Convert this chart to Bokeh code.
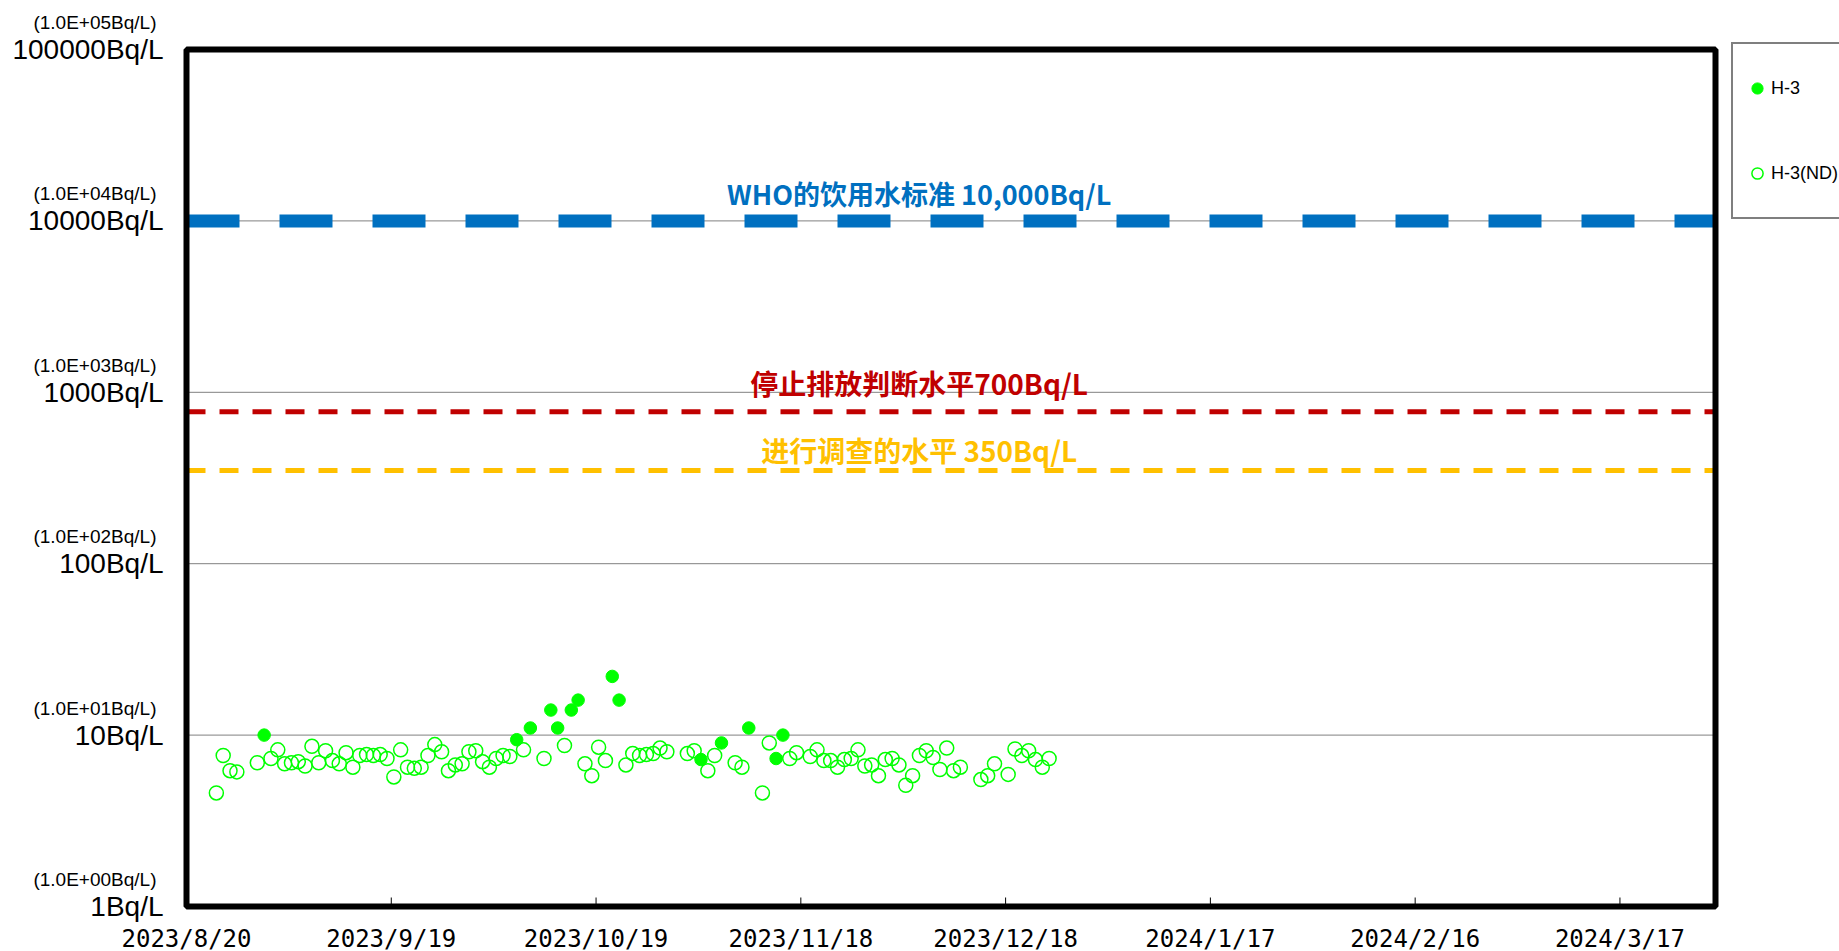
import math
import pandas as pd
from bokeh.plotting import figure
from bokeh.models import (Label, Legend, LegendItem, ColumnDataSource,
                          Range1d, BoxAnnotation)
from bokeh.core.properties import value
from bokeh.embed import file_html
from bokeh.resources import INLINE

# ---------------- data ----------------
x_start = "2023-08-20"
x_end = "2024-03-31"
x_tick_labels = ["2023/8/20", "2023/9/19", "2023/10/19", "2023/11/18",
                 "2023/12/18", "2024/1/17", "2024/2/16", "2024/3/17"]

y_tick_values = [1, 10, 100, 1000, 10000, 100000]
y_tick_labels = ["1Bq/L", "10Bq/L", "100Bq/L", "1000Bq/L", "10000Bq/L", "100000Bq/L"]
y_tick_sublabels = ["(1.0E+00Bq/L)", "(1.0E+01Bq/L)", "(1.0E+02Bq/L)",
                    "(1.0E+03Bq/L)", "(1.0E+04Bq/L)", "(1.0E+05Bq/L)"]
y_grid_values = [10, 100, 1000, 10000]

sample_hour = 9  # sampling time of day

h3_dates = ["2023-08-31", "2023-10-07", "2023-10-09", "2023-10-12", "2023-10-13",
            "2023-10-15", "2023-10-16", "2023-10-21", "2023-10-22", "2023-11-03",
            "2023-11-06", "2023-11-10", "2023-11-14", "2023-11-15"]
h3_values = [10.0, 9.4, 11, 14, 11, 14, 16, 22, 16, 7.2, 9.0, 11, 7.3, 10]

nd_dates = ["2023-08-24", "2023-08-25", "2023-08-26", "2023-08-27", "2023-08-30",
            "2023-09-01", "2023-09-02", "2023-09-03", "2023-09-04", "2023-09-05",
            "2023-09-06", "2023-09-07", "2023-09-08", "2023-09-09", "2023-09-10",
            "2023-09-11", "2023-09-12", "2023-09-13", "2023-09-14", "2023-09-15",
            "2023-09-16", "2023-09-17", "2023-09-18", "2023-09-19", "2023-09-20",
            "2023-09-21", "2023-09-22", "2023-09-23", "2023-09-24", "2023-09-25",
            "2023-09-26", "2023-09-27", "2023-09-28", "2023-09-29", "2023-09-30",
            "2023-10-01", "2023-10-02", "2023-10-03", "2023-10-04", "2023-10-05",
            "2023-10-06", "2023-10-08", "2023-10-11", "2023-10-14", "2023-10-17",
            "2023-10-18", "2023-10-19", "2023-10-20", "2023-10-23", "2023-10-24",
            "2023-10-25", "2023-10-26", "2023-10-27", "2023-10-28", "2023-10-29",
            "2023-11-01", "2023-11-02", "2023-11-04", "2023-11-05", "2023-11-08",
            "2023-11-09", "2023-11-12", "2023-11-13", "2023-11-16", "2023-11-17",
            "2023-11-19", "2023-11-20", "2023-11-21", "2023-11-22", "2023-11-23",
            "2023-11-24", "2023-11-25", "2023-11-26", "2023-11-27", "2023-11-28",
            "2023-11-29", "2023-11-30", "2023-12-01", "2023-12-02", "2023-12-03",
            "2023-12-04", "2023-12-05", "2023-12-06", "2023-12-07", "2023-12-08",
            "2023-12-09", "2023-12-10", "2023-12-11", "2023-12-14", "2023-12-15",
            "2023-12-16", "2023-12-18", "2023-12-19", "2023-12-20", "2023-12-21",
            "2023-12-22", "2023-12-23", "2023-12-24"]
nd_values = [4.6, 7.6, 6.2, 6.1, 6.9,
             7.3, 8.2, 6.8, 6.9, 7.0,
             6.6, 8.6, 6.9, 8.1, 7.1,
             6.8, 7.9, 6.5, 7.6, 7.7,
             7.6, 7.7, 7.3, 5.7, 8.2,
             6.5, 6.4, 6.5, 7.6, 8.8,
             8.0, 6.2, 6.7, 6.8, 8.0,
             8.1, 7.0, 6.5, 7.3, 7.6,
             7.5, 8.2, 7.3, 8.7, 6.8,
             5.8, 8.5, 7.1, 6.7, 7.8,
             7.6, 7.7, 7.8, 8.4, 8.0,
             7.8, 8.1, 6.2, 7.6, 6.9,
             6.5, 4.6, 9.0, 7.3, 7.9,
             7.5, 8.2, 7.1, 7.1, 6.5,
             7.2, 7.3, 8.2, 6.6, 6.7,
             5.8, 7.2, 7.3, 6.7, 5.1,
             5.8, 7.6, 8.1, 7.4, 6.3,
             8.4, 6.2, 6.5, 5.5, 5.8,
             6.8, 5.9, 8.3, 7.6, 8.1,
             7.2, 6.5, 7.3]

who_level = 10000
stop_level = 770
investigate_level = 350
who_text = "WHO的饮用水标准 10,000Bq/L"
stop_text = "停止排放判断水平700Bq/L"
investigate_text = "进行调查的水平 350Bq/L"
text_center_date = "2023-12-05 08:00"

# ---------------- layout constants (pixels) ----------------
W, H = 1839, 951
BOX_L, BOX_R = 186, 1715      # plot box edges
BOX_T, BOX_B = 49, 906
TICK_LEN = 9

xs0, xs1 = pd.Timestamp(x_start), pd.Timestamp(x_end)
span_days = (xs1 - xs0) / pd.Timedelta(days=1)
px_per_day = (BOX_R - BOX_L) / span_days
lo_dec = math.log10(y_tick_values[0])
hi_dec = math.log10(y_tick_values[-1])
px_per_dec = (BOX_B - BOX_T) / (hi_dec - lo_dec)

x_range = Range1d(start=xs0 - pd.Timedelta(days=BOX_L / px_per_day),
                  end=xs1 + pd.Timedelta(days=(W - BOX_R) / px_per_day))
y_range = Range1d(start=10 ** (lo_dec - (H - BOX_B) / px_per_dec),
                  end=10 ** (hi_dec + BOX_T / px_per_dec))

p = figure(frame_width=W, frame_height=H,
           x_axis_type="datetime", y_axis_type="log",
           x_axis_location=None, y_axis_location=None,
           x_range=x_range, y_range=y_range,
           output_backend="svg", toolbar_location=None,
           min_border=0, min_border_left=0, min_border_right=0,
           min_border_top=0, min_border_bottom=0)
p.outline_line_color = None
p.background_fill_color = "white"
p.grid.visible = False

# horizontal grid lines (dotted) inside the box
grid_src = ColumnDataSource(dict(x0=[xs0] * len(y_grid_values), x1=[xs1] * len(y_grid_values),
                                 y=y_grid_values))
p.segment(x0="x0", y0="y", x1="x1", y1="y", source=grid_src,
          line_color="black", line_width=1, line_dash="1 1")

# threshold lines
for lvl, col, lw, dash in [(who_level, "#0070C0", 13, "53 40"),
                           (stop_level, "#C00000", 5, "19 14"),
                           (investigate_level, "#FFC000", 5, "19 14")]:
    p.line(x=[xs0, xs1], y=[lvl, lvl], line_color=col, line_width=lw, line_dash=dash)

# date ticks: marks on the bottom edge pointing inward, labels below
tick_dt = [pd.Timestamp(t.replace("/", "-")) for t in x_tick_labels]
tick_src = ColumnDataSource(dict(x=tick_dt, y0=[y_tick_values[0]] * len(tick_dt),
                                 y1=[10 ** (lo_dec + TICK_LEN / px_per_dec)] * len(tick_dt),
                                 label=x_tick_labels))
p.segment(x0="x", y0="y0", x1="x", y1="y1", source=tick_src,
          line_color="black", line_width=1)
p.text(x="x", y="y0", text="label", source=tick_src, y_offset=32,
       text_align="center", text_baseline="middle",
       text_font=value("DejaVu Sans Mono"), text_font_size="24px", text_color="black")

# data
offset = pd.Timedelta(hours=sample_hour)
nd_src = ColumnDataSource(dict(x=pd.to_datetime(nd_dates) + offset, y=nd_values))
h3_src = ColumnDataSource(dict(x=pd.to_datetime(h3_dates) + offset, y=h3_values))
r_nd = p.scatter("x", "y", source=nd_src, marker="circle", size=14,
                 fill_color=None, line_color="#00FF00", line_width=1.5)
r_h3 = p.scatter("x", "y", source=h3_src, marker="circle", size=12.5,
                 fill_color="#00FF00", line_color="#00FF00", line_width=1)

# plot box
p.add_layout(BoxAnnotation(left=xs0.value // 10**6, right=xs1.value // 10**6,
                           bottom=y_tick_values[0], top=y_tick_values[-1],
                           fill_alpha=0, fill_color=None,
                           line_color="black", line_width=6, line_alpha=1))

# threshold captions
tx = pd.Timestamp(text_center_date)
for txt, lvl, col, off, fs in [(who_text, who_level, "#0070C0", 27, "27px"),
                               (stop_text, stop_level, "#C00000", 29, "28px"),
                               (investigate_text, investigate_level, "#FFC000", 20, "28px")]:
    p.add_layout(Label(x=tx, y=lvl, text=txt, text_align="center",
                       text_baseline="alphabetic", y_offset=off,
                       text_font="Noto Sans CJK SC", text_font_style="bold",
                       text_font_size=fs, text_color=col))

# y tick labels, left of the box
lab_src = ColumnDataSource(dict(x=[xs0] * len(y_tick_values), y=y_tick_values,
                                big=y_tick_labels, small=y_tick_sublabels))
p.text(x="x", y="y", text="big", source=lab_src, x_offset=-23,
       text_align="right", text_baseline="middle", text_font=value("Liberation Sans"),
       text_font_size="28px", text_color="black")
p.text(x="x", y="y", text="small", source=lab_src, x_offset=-30, y_offset=-27,
       text_align="right", text_baseline="middle", text_font=value("Liberation Sans"),
       text_font_size="19px", text_color="black")

# legend
legend = Legend(items=[LegendItem(label="H-3", renderers=[r_h3]),
                       LegendItem(label="H-3(ND)", renderers=[r_nd])],
                location=(1731, H - 219), orientation="vertical",
                padding=10, spacing=17, margin=0,
                glyph_height=68, glyph_width=28, label_height=68,
                label_standoff=0,
                label_text_font="Liberation Sans", label_text_font_size="18px",
                label_text_color="black",
                border_line_color="black", border_line_width=2,
                background_fill_color="white", background_fill_alpha=1.0)
p.add_layout(legend)

open("out.html", "w").write(file_html(p, INLINE))
